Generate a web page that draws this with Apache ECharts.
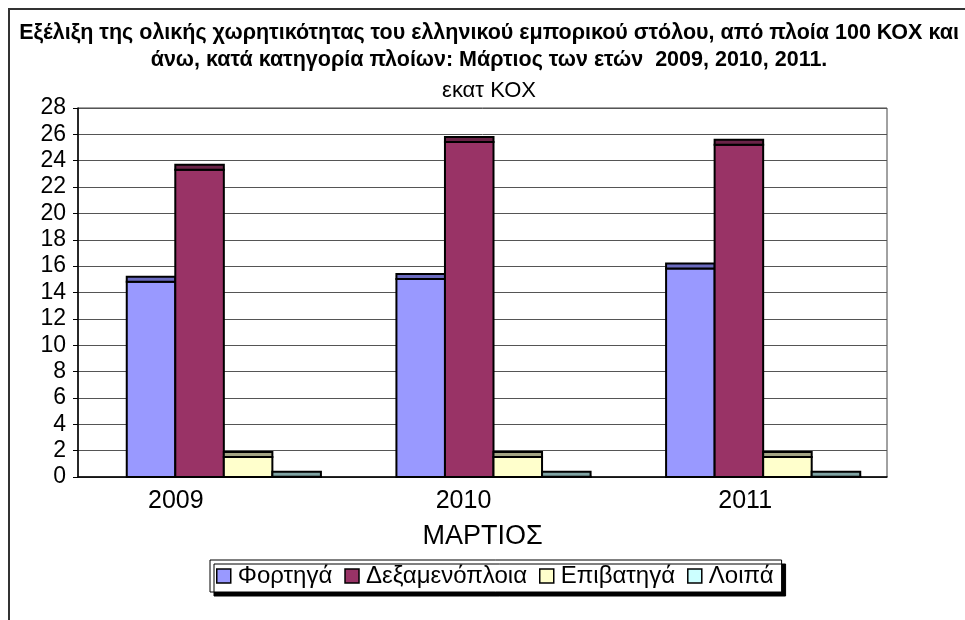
<!DOCTYPE html>
<html><head><meta charset="utf-8">
<script src="https://cdn.jsdelivr.net/npm/echarts@6/dist/echarts.min.js"></script>
<style>html,body{margin:0;padding:0;background:#fff}#c{width:965px;height:620px}</style>
</head><body><div id="c"></div>
<script>
const years = ['2009', '2010', '2011'];
const seriesNames = ['Φορτηγά', 'Δεξαμενόπλοια', 'Επιβατηγά', 'Λοιπά'];
const cargo = [15.2, 15.4, 16.2];
const tankers = [23.7, 25.8, 25.6];
const passenger = [1.9, 1.9, 1.9];
const other = [0.4, 0.4, 0.4];
const faceColors = ['#9999FF', '#993366', '#FFFFCC', '#CCFFFF'];
const capColors = ['#6b6bc0', '#6a2347', '#a5a585', '#7fa3a3'];
const labelPad = [74, 38, 14];

const allValues = [cargo, tankers, passenger, other];

function makeRender(k) {
  return function (params, api) {
    const ci = api.value(0), v = api.value(1);
    const base = api.coord([ci, 0]);
    const top = api.coord([ci, v]);
    const bw = api.size([1, 0])[0] * 0.18;
    const x = base[0] + 11 + (k - 2) * bw;
    const h = base[1] - top[1];
    const capH = Math.min(5, h);
    return {
      type: 'group',
      children: [
        { type: 'rect', shape: { x: x, y: top[1] + capH, width: bw, height: Math.max(0, h - capH) },
          style: { fill: faceColors[k], stroke: '#000', lineWidth: 2 } },
        { type: 'rect', shape: { x: x, y: top[1], width: bw, height: capH },
          style: { fill: capColors[k], stroke: '#000', lineWidth: 2 } }
      ]
    };
  };
}

const FONT = 'Liberation Sans, Arial, sans-serif';
const chart = echarts.init(document.getElementById('c'));
chart.setOption({
  animation: false,
  backgroundColor: '#fff',
  textStyle: { fontFamily: FONT },
  graphic: [
    { type: 'rect', shape: { x: 9, y: 9, width: 1000, height: 700 }, style: { fill: null, stroke: '#333', lineWidth: 2 }, z: 100 }
  ],
  title: [
    { text: 'Εξέλιξη της ολικής χωρητικότητας του ελληνικού εμπορικού στόλου, από πλοία 100 ΚΟΧ και\nάνω, κατά κατηγορία πλοίων: Μάρτιος των ετών  2009, 2010, 2011.',
      left: 484, top: 15, textAlign: 'center',
      textStyle: { fontSize: 21.5, fontWeight: 'bold', color: '#000', lineHeight: 27, fontFamily: FONT } },
    { text: 'εκατ ΚΟΧ', left: 484, top: 75, textAlign: 'center',
      textStyle: { fontSize: 22, fontWeight: 'normal', color: '#000', fontFamily: FONT } }
  ],
  grid: { left: 78, right: 78, top: 108, bottom: 143, show: true, borderColor: '#444', borderWidth: 1 },
  legend: {
    data: seriesNames,
    left: 210, top: 560, width: 700,
    icon: 'rect', itemWidth: 14, itemHeight: 14, itemGap: 12,
    itemStyle: { borderColor: '#000', borderWidth: 1.5 },
    textStyle: { fontSize: 24, color: '#000', padding: [0, 0, 0, 2] },
    backgroundColor: '#fff', borderColor: '#000', borderWidth: 1,
    padding: [4, 8, 4, 6],
    shadowColor: '#000', shadowBlur: 0, shadowOffsetX: 4, shadowOffsetY: 4
  },
  xAxis: {
    type: 'category', data: years,
    axisLine: { lineStyle: { color: '#000', width: 1.5 } },
    axisTick: { show: false },
    axisLabel: {
      margin: 12,
      formatter: function (val, idx) { return '{y' + idx + '|' + val + '}'; },
      rich: {
        y0: { fontSize: 25, color: '#000', padding: [0, labelPad[0], 0, 0] },
        y1: { fontSize: 25, color: '#000', padding: [0, labelPad[1], 0, 0] },
        y2: { fontSize: 25, color: '#000', padding: [0, labelPad[2], 0, 0] }
      }
    },
    name: 'ΜΑΡΤΙΟΣ', nameLocation: 'middle', nameGap: 46,
    nameTextStyle: { fontSize: 27, color: '#000' }
  },
  yAxis: {
    type: 'value', min: 0, max: 28, interval: 2,
    axisLine: { show: true, lineStyle: { color: '#000', width: 1.5 } },
    axisTick: { show: true, length: 5, lineStyle: { color: '#000' } },
    axisLabel: { fontSize: 23, color: '#000', margin: 12 },
    splitLine: { lineStyle: { color: '#555', width: 1 } }
  },
  series: allValues.map(function (arr, k) {
    return {
      type: 'custom', name: seriesNames[k],
      itemStyle: { color: faceColors[k] },
      renderItem: makeRender(k),
      encode: { x: 0, y: 1 },
      data: arr.map(function (v, i) { return [i, v]; })
    };
  })
});
</script>
</body></html>
